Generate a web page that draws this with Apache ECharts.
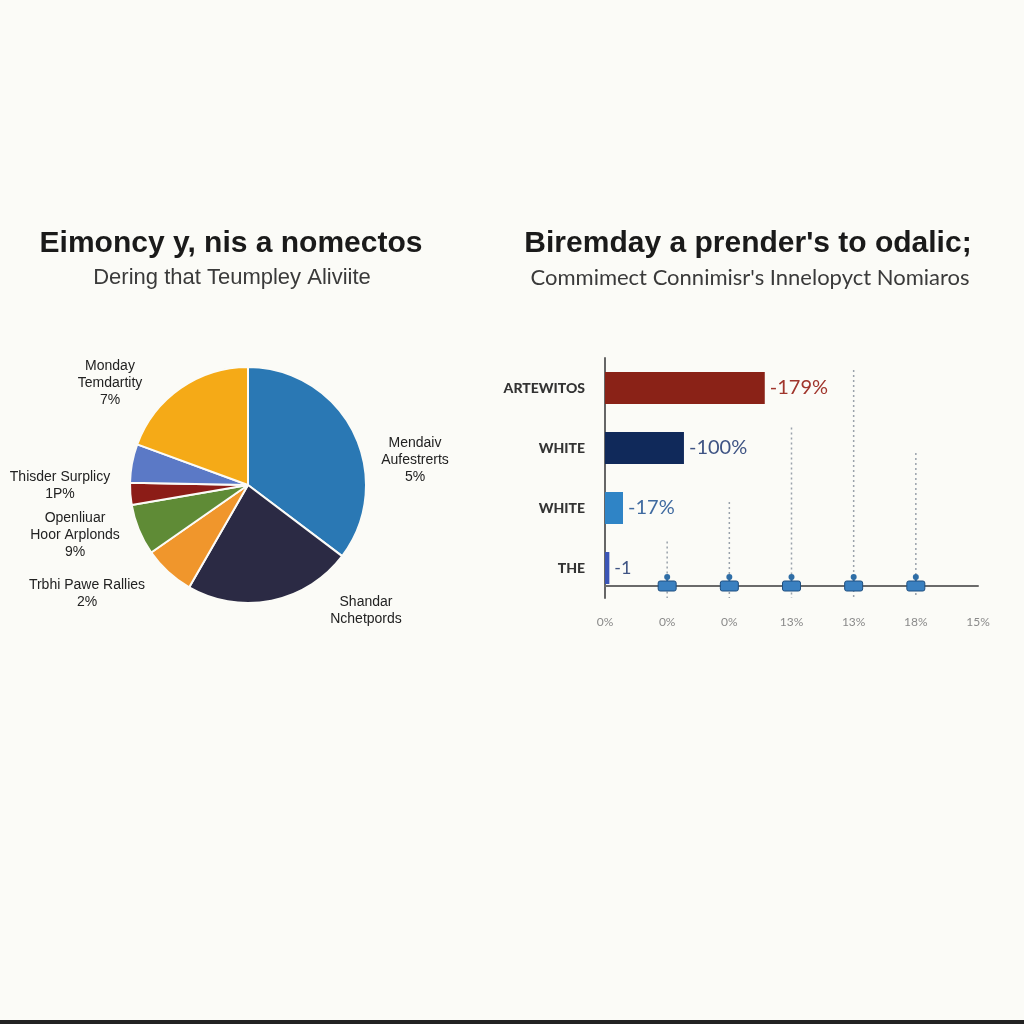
<!DOCTYPE html>
<html>
<head>
<meta charset="utf-8">
<script src="https://cdn.jsdelivr.net/npm/echarts@6/dist/echarts.min.js"></script>
<style>
  html, body { margin: 0; padding: 0; background: #fbfbf7; }
  #main { width: 1024px; height: 1024px; }
</style>
</head>
<body>
<div id="main"></div>
<script>
var chart = echarts.init(document.getElementById('main'));

// pie data (clockwise from 12 o'clock)
var pieNames = ['blue', 'navy', 'orange', 'green', 'red', 'purple', 'yellow'];
var pieValues = [35.3, 23, 7, 7, 3, 5.3, 19.4];
var pieColors = ['#2a78b4', '#2b2a44', '#f0962c', '#5f8b36', '#8c1c17', '#5b79c6', '#f5aa17'];
var pieLabels = [
  'Mendaiv\nAufestrerts\n5%',
  'Shandar\nNchetpords',
  'Trbhi Pawe Rallies\n2%',
  'Openliuar\nHoor Arplonds\n9%',
  '',
  'Thisder Surplicy\n1P%',
  'Monday\nTemdartity\n7%'
];

// bar data
var barCategories = ['ARTEWITOS', 'WHITE', 'WHITE', 'THE'];
var barValues = [2.57, 1.27, 0.29, 0.07];
var barLabels = ['-179%', '-100%', '-17%', '-1'];
var barColors = ['#8a2217', '#10295a', '#2f84c6', '#3b55b6'];
var barLabelColors = ['#a0352c', '#3f5484', '#3f6aa0', '#3f5484'];
var xTickLabels = ['0%', '0%', '0%', '13%', '13%', '18%', '15%'];

// little markers on the x axis: [position, dotted line height]
var markerX = [1, 2, 3, 4, 5];
var markerH = [0.185, 0.35, 0.66, 0.90, 0.554];

// label placement for the pie (layout only)
var pieLabelPos = [[415, 460], [366, 611], [87, 594], [75, 535], [0, 0], [60, 486], [110, 383]];

var pieData = pieValues.map(function (v, i) {
  return {
    name: pieNames[i],
    value: v,
    itemStyle: { color: pieColors[i] },
    label: { show: pieLabels[i] !== '' }
  };
});

var barData = barValues.map(function (v, i) {
  return {
    value: v,
    itemStyle: { color: barColors[i] },
    label: { color: barLabelColors[i], fontSize: i === 3 ? 18 : 20 }
  };
});

var markerData = markerX.map(function (x, i) { return [x, markerH[i]]; });

option = {
  backgroundColor: '#fbfbf7',
  animation: false,
  graphic: [
    { type: 'text', x: 231, y: 244, style: { text: 'Eimoncy y, nis a nomectos', font: 'bold 30px "Liberation Sans"', fill: '#1a1a1a', textAlign: 'center', textVerticalAlign: 'middle' } },
    { type: 'text', x: 232, y: 278, style: { text: 'Dering that Teumpley Aliviite', font: '22px "Liberation Sans"', fill: '#3a3a3a', textAlign: 'center', textVerticalAlign: 'middle' } },
    { type: 'text', x: 748, y: 244, style: { text: "Biremday a prender's to odalic;", font: 'bold 30px "Liberation Sans"', fill: '#1a1a1a', textAlign: 'center', textVerticalAlign: 'middle' } },
    { type: 'text', x: 750, y: 278, style: { text: "Commimect Connimisr's Innelopyct Nomiaros", font: '22px Lato', fill: '#3a3a3a', textAlign: 'center', textVerticalAlign: 'middle' } },
    { type: 'rect', shape: { x: 0, y: 1020, width: 1024, height: 4 }, style: { fill: '#222' } }
  ],
  grid: { left: 605, top: 358, width: 373, height: 240 },
  xAxis: {
    type: 'value',
    min: 0,
    max: 6,
    interval: 1,
    offset: -12,
    axisLine: { show: true, lineStyle: { color: '#6a6a6a', width: 2 } },
    axisTick: { show: false },
    splitLine: { show: false },
    axisLabel: {
      margin: 30,
      color: '#8a8a8a',
      fontFamily: 'Lato',
      fontSize: 12,
      formatter: function (v) { return xTickLabels[Math.round(v)]; }
    }
  },
  yAxis: [
    {
      type: 'category',
      inverse: true,
      data: barCategories,
      axisLine: { show: true, lineStyle: { color: '#666', width: 2 } },
      axisTick: { show: false },
      axisLabel: { margin: 20, color: '#333', fontFamily: 'Lato', fontWeight: 900, fontSize: 14 }
    },
    {
      type: 'value',
      min: -0.05,
      max: 0.95,
      show: false
    }
  ],
  series: [
    {
      type: 'pie',
      center: [248, 485],
      radius: 118,
      startAngle: 90,
      clockwise: true,
      data: pieData,
      itemStyle: { borderColor: '#fbfbf7', borderWidth: 2 },
      labelLine: { show: false },
      label: {
        position: 'outside',
        color: '#222',
        fontFamily: 'Liberation Sans',
        fontSize: 14,
        lineHeight: 17,
        align: 'center',
        overflow: 'none',
        formatter: function (p) { return pieLabels[p.dataIndex]; }
      },
      labelLayout: function (p) {
        var pos = pieLabelPos[p.dataIndex];
        return { x: pos[0], y: pos[1], align: 'center', verticalAlign: 'middle' };
      }
    },
    {
      type: 'bar',
      data: barData,
      barWidth: 32,
      label: {
        show: true,
        position: 'right',
        distance: 5,
        fontFamily: 'Lato',
        formatter: function (p) { return barLabels[p.dataIndex]; }
      }
    },
    {
      type: 'custom',
      xAxisIndex: 0,
      yAxisIndex: 1,
      data: markerData,
      renderItem: function (params, api) {
        var top = api.coord([api.value(0), api.value(1)]);
        var base = api.coord([api.value(0), 0]);
        var x = base[0], y = base[1];
        return {
          type: 'group',
          children: [
            { type: 'line', shape: { x1: x, y1: top[1], x2: x, y2: y + 12 }, style: { stroke: '#9aa2ab', lineWidth: 1.5, lineDash: [2, 3] } },
            { type: 'circle', shape: { cx: x, cy: y - 9, r: 3 }, style: { fill: '#2f6ea6' } },
            { type: 'line', shape: { x1: x, y1: y - 9, x2: x, y2: y }, style: { stroke: '#2f6ea6', lineWidth: 2 } },
            { type: 'rect', shape: { x: x - 9, y: y - 5, width: 18, height: 10, r: 2 }, style: { fill: '#3a80c0', stroke: '#1f4f80', lineWidth: 1 } }
          ]
        };
      }
    }
  ]
};

chart.setOption(option);
</script>
</body>
</html>
